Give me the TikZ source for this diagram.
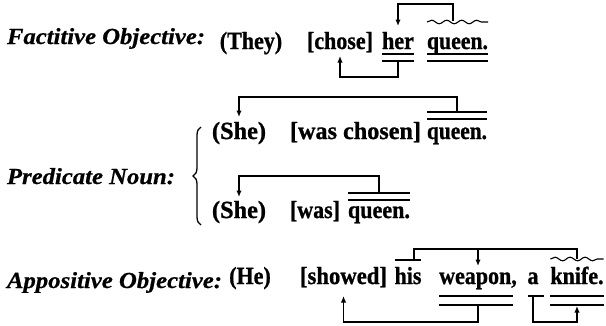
\documentclass[tikz,border=0pt]{standalone}
\usepackage{graphicx}
\usepackage{fontspec}
\setmainfont{Liberation Serif}
\newfontfamily\heavyfont{Liberation Serif Bold}[FakeBold=1.0]
\newfontfamily\heavyital{Liberation Serif Bold Italic}[FakeBold=0.6]
\usetikzlibrary{arrows.meta,decorations.pathmorphing,decorations.pathreplacing}
\newsavebox\fwbox
\newcommand\fw[2]{\sbox\fwbox{#2}\pgfmathsetmacro\fwfac{#1/\wd\fwbox}\scalebox{\fwfac}[1]{\usebox\fwbox}}
\newcommand\fws[2]{\sbox\fwbox{#2}\pgfmathsetmacro\fwfac{#1/\wd\fwbox}\scalebox{\fwfac}[1.12]{\usebox\fwbox}}
\newcommand\vs[1]{\scalebox{1}[1.12]{#1}}
\newcommand\sentfont{\fontsize{22}{24}\selectfont\heavyfont}
\newcommand\labfont{\fontsize{23}{25}\selectfont\heavyital}
\tikzset{
  wordnode/.style={inner sep=0pt, outer sep=0pt, anchor=base west, font=\sentfont},
  wordc/.style={inner sep=0pt, outer sep=0pt, anchor=base, font=\sentfont},
  labnode/.style={inner sep=0pt, outer sep=0pt, anchor=base west, font=\labfont},
  ln/.style={line width=1.4pt},
  arr/.style={line width=1.4pt, -{Latex[length=6.5pt,width=5.5pt]}},
  wave/.style={line width=1.1pt, decorate, decoration={snake, amplitude=1.8pt, segment length=15pt}},
}
\begin{document}
\begin{tikzpicture}[x=1pt,y=-1pt]
\useasboundingbox (0,0) rectangle (606,325);
% labels
\node[labnode] (l1) at (7,44) {\fw{198}{Factitive Objective:}};
\node[labnode] (l2) at (7,184) {\fw{168}{Predicate Noun:}};
\node[labnode] (l3) at (7,288) {\fw{215}{Appositive Objective:}};
% ---------- row 1
\node[wordc] (they) at (251,49) {\vs{(They)}};
\node[wordc] (chose) at (340,49) {\vs{[chose]}};
\node[wordc] (her) at (398,49) {\vs{her}};
\node[wordnode] (queenA) at (427,49) {\fws{61}{queen.}};
\draw[ln] (her.west |- 0,54) -- (her.east |- 0,54);
\draw[ln] (her.west |- 0,61) -- (her.east |- 0,61);
\draw[ln] (queenA.west |- 0,54) -- (queenA.east |- 0,54);
\draw[ln] (queenA.west |- 0,61) -- (queenA.east |- 0,61);
\draw[wave] (queenA.west |- 0,22) -- (queenA.east |- 0,22);
\coordinate (qa) at (453,21);
\draw[arr] (qa) -- (453,4) -| (her.center |- 0,26);
\draw[arr] (her.center |- 0,61) -- (her.center |- 0,77) -| (chose.center |- 0,56);
% ---------- row 2a
\node[wordnode] (sheA) at (212,139) {\fws{54}{(She)}};
\node[wordnode] (waschosen) at (290,139) {\fws{131}{[was chosen]}};
\node[wordnode] (queenB) at (427,139) {\fws{60}{queen.}};
\draw[ln] (queenB.west |- 0,112) -- (queenB.east |- 0,112);
\draw[ln] (queenB.west |- 0,119) -- (queenB.east |- 0,119);
\draw[arr] (queenB.center |- 0,112) -- (queenB.center |- 0,97) -| (sheA.center |- 0,117);
% ---------- row 2b
\node[wordnode] (sheB) at (212,218) {\fws{54}{(She)}};
\node[wordc] (was) at (315,218) {\vs{[was]}};
\node[wordnode] (queenC) at (348,218) {\fws{62}{queen.}};
\draw[ln] (queenC.west |- 0,193) -- (queenC.east |- 0,193);
\draw[ln] (queenC.west |- 0,200) -- (queenC.east |- 0,200);
\draw[arr] (queenC.center |- 0,193) -- (queenC.center |- 0,176) -| (sheB.center |- 0,197);
% brace
\draw[line width=1.3pt, decorate, decoration={brace, amplitude=8pt}] (201,225) -- (201,127);
% ---------- row 3
\node[wordc] (he) at (250,284) {\vs{(He)}};
\node[wordnode] (showed) at (300,284) {\fws{87}{[showed]}};
\node[wordc] (his) at (408,284) {\vs{his}};
\node[wordc] (weapon) at (478,284) {\vs{weapon,}};
\node[wordc] (a) at (533,284) {\vs{a}};
\node[wordc] (knife) at (577,284) {\vs{knife.}};
\draw[ln] (his.west |- 0,260) -- (his.east |- 0,260);
\draw[wave] (knife.west |- 0,259) -- (knife.east |- 0,259);
\coordinate (hisTop) at (414,260);
\coordinate (knTop) at (577,259);
\draw[ln] (hisTop) -- (414,249) -- (577,249) -- (knTop);
\draw[arr] (weapon.center |- 0,249) -- (weapon.center |- 0,266);
\draw[ln] (weapon.west |- 0,296) -- ([xshift=-4pt]weapon.east |- 0,296);
\draw[ln] (weapon.west |- 0,305) -- ([xshift=-4pt]weapon.east |- 0,305);
\draw[ln] (knife.west |- 0,296) -- (knife.east |- 0,296);
\draw[ln] (knife.west |- 0,305) -- (knife.east |- 0,305);
\draw[arr] (weapon.center |- 0,305) -- (weapon.center |- 0,322) -| (showed.center |- 0,296);
\draw[ln] (528,296) -- (544,296);
\coordinate (aBar) at (533,296);
\draw[arr] (aBar) -- (533,322) -| (knTop |- 0,306);
\end{tikzpicture}
\end{document}
